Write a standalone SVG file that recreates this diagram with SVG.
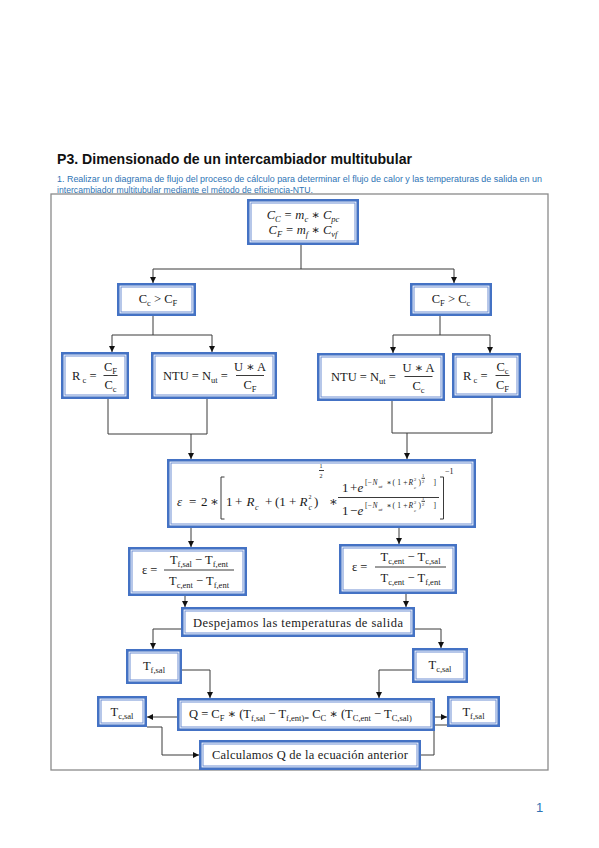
<svg xmlns="http://www.w3.org/2000/svg" width="599" height="848" viewBox="0 0 599 848">
<style>
.bo{fill:#fff;stroke:#4472C4;stroke-width:2.6}
.bi{fill:none;stroke:#6F8FD3;stroke-width:1}
.c{fill:none;stroke:#3a3a3a;stroke-width:1}
.a{marker-end:url(#ah)}
.m{font-family:"Liberation Serif","DejaVu Serif",serif;font-size:12.5px;fill:#1a1a1a}
.s{font-size:8.5px}
.i{font-style:italic}
.e13{font-size:13px}
.e8{font-size:8px}
.e7{font-size:7.5px}
.e6{font-size:6px}
.e5{font-size:5px}
.e4{font-size:4.5px}
.frame{fill:none;stroke:#8a8a8a;stroke-width:1.3}
</style>
<defs>
<marker id="ah" markerWidth="6" markerHeight="6" refX="6" refY="3" orient="auto" markerUnits="userSpaceOnUse">
<path d="M0,0 L6,3 L0,6 z" fill="#111"/>
</marker>
</defs>
<rect width="599" height="848" fill="#fff"/>
<text x="57" y="164" font-family="Liberation Sans, Arial, sans-serif" font-size="15" font-weight="bold" fill="#111" textLength="355" lengthAdjust="spacingAndGlyphs">P3. Dimensionado de un intercambiador multitubular</text>
<text x="57" y="182" font-family="Liberation Sans, Arial, sans-serif" font-size="8.5" fill="#2E74B5" textLength="485" lengthAdjust="spacingAndGlyphs">1. Realizar un diagrama de flujo del proceso de cálculo para determinar el flujo de calor y las temperaturas de salida en un</text>
<text x="57" y="192.5" font-family="Liberation Sans, Arial, sans-serif" font-size="8.5" fill="#2E74B5" textLength="256" lengthAdjust="spacingAndGlyphs">intercambiador multitubular mediante el método de eficiencia-NTU.</text>
<rect class="frame" x="51" y="194" width="497" height="576"/>
<text x="536" y="812" font-family="Liberation Sans, Arial, sans-serif" font-size="13" fill="#2E74B5">1</text>

<g id="connectors">
<path class="c" d="M301,245 V269 M153,269 H454"/>
<path class="c a" d="M153,269 V283"/>
<path class="c a" d="M454,269 V283"/>
<path class="c" d="M153,316 V335 M112,335 H212"/>
<path class="c a" d="M112,335 V352"/>
<path class="c a" d="M212,335 V352"/>
<path class="c" d="M440,316 V335 M393,335 H490"/>
<path class="c a" d="M393,335 V353"/>
<path class="c a" d="M490,335 V353"/>
<path class="c" d="M108,399 V434 H207 V399"/>
<path class="c a" d="M191,434 V459"/>
<path class="c" d="M392,401 V433 H492 V398"/>
<path class="c a" d="M407,433 V459"/>
<path class="c a" d="M191,528 V547"/>
<path class="c a" d="M399,528 V544"/>
<path class="c a" d="M185,596 V607"/>
<path class="c a" d="M406,594 V607"/>
<path class="c a" d="M181,629 H153 V649"/>
<path class="c a" d="M415,629 H441 V648"/>
<path class="c a" d="M182,670 H210 V698"/>
<path class="c a" d="M412,670 H379 V698"/>
<path class="c a" d="M177,717 H147"/>
<path class="c a" d="M428,717 H447"/>
<path class="c a" d="M147,727 H162 V755 H199"/>
<path class="c a" d="M447,725 H434 V755 H413"/>
</g>

<g id="n_top">
<rect class="bo" x="248.3" y="200.3" width="109.4" height="43.4"/>
<rect class="bi" x="251" y="203" width="104" height="38"/>
<text class="m i" x="303" y="219" text-anchor="middle">C<tspan class="s" dy="2.5">C</tspan><tspan dy="-2.5"> =  m</tspan><tspan class="s" dy="2.5">c</tspan><tspan dy="-2.5"> ∗ C</tspan><tspan class="s" dy="2.5">pc</tspan></text>
<text class="m i" x="303" y="234" text-anchor="middle">C<tspan class="s" dy="2.5">F</tspan><tspan dy="-2.5"> =  m</tspan><tspan class="s" dy="2.5">f</tspan><tspan dy="-2.5"> ∗ C</tspan><tspan class="s" dy="2.5">vf</tspan></text>
</g>

<g id="n_cc_gt_cf">
<rect class="bo" x="118.3" y="284.3" width="76.4" height="30.4"/>
<rect class="bi" x="121" y="287" width="71" height="25"/>
<text class="m" x="158" y="303" text-anchor="middle">C<tspan class="s" dy="2.5">c</tspan><tspan dy="-2.5"> &gt; C</tspan><tspan class="s" dy="2.5">F</tspan></text>
</g>

<g id="n_cf_gt_cc">
<rect class="bo" x="411.3" y="284.3" width="79.4" height="30.4"/>
<rect class="bi" x="414" y="287" width="74" height="25"/>
<text class="m" x="451" y="303" text-anchor="middle">C<tspan class="s" dy="2.5">F</tspan><tspan dy="-2.5"> &gt; C</tspan><tspan class="s" dy="2.5">c</tspan></text>
</g>

<g id="n_rc_left">
<rect class="bo" x="62.3" y="353.3" width="65.4" height="44.4"/>
<rect class="bi" x="65" y="356" width="60" height="39"/>
<text class="m" x="72" y="380">R<tspan class="s" dy="2.5"> c</tspan><tspan dy="-2.5"> =</tspan></text>
<text class="m" x="110.5" y="371" text-anchor="middle">C<tspan class="s" dy="2.5">F</tspan></text>
<path class="c" d="M103.5,375.5 H117.5"/>
<text class="m" x="110.5" y="389" text-anchor="middle">C<tspan class="s" dy="2.5">c</tspan></text>
</g>

<g id="n_ntu_left">
<rect class="bo" x="152.3" y="353.3" width="123.4" height="44.4"/>
<rect class="bi" x="155" y="356" width="118" height="39"/>
<text class="m" x="163" y="380">NTU = N<tspan class="s" dy="2.5">ut</tspan><tspan dy="-2.5"> =</tspan></text>
<text class="m" x="250" y="371" text-anchor="middle">U ∗ A</text>
<path class="c" d="M236,375.5 H264"/>
<text class="m" x="250" y="389" text-anchor="middle">C<tspan class="s" dy="2.5">F</tspan></text>
</g>

<g id="n_ntu_right">
<rect class="bo" x="318.3" y="354.3" width="125.4" height="45.4"/>
<rect class="bi" x="321" y="357" width="120" height="40"/>
<text class="m" x="331" y="381">NTU = N<tspan class="s" dy="2.5">ut</tspan><tspan dy="-2.5"> =</tspan></text>
<text class="m" x="418.5" y="372" text-anchor="middle">U ∗ A</text>
<path class="c" d="M404.5,376.5 H432.5"/>
<text class="m" x="418.5" y="390" text-anchor="middle">C<tspan class="s" dy="2.5">c</tspan></text>
</g>

<g id="n_rc_right">
<rect class="bo" x="453.3" y="354.3" width="66.4" height="42.4"/>
<rect class="bi" x="456" y="357" width="61" height="37"/>
<text class="m" x="463" y="380">R<tspan class="s" dy="2.5"> c</tspan><tspan dy="-2.5"> =</tspan></text>
<text class="m" x="502.5" y="371" text-anchor="middle">C<tspan class="s" dy="2.5">c</tspan></text>
<path class="c" d="M495.5,375.5 H509.5"/>
<text class="m" x="502.5" y="389" text-anchor="middle">C<tspan class="s" dy="2.5">F</tspan></text>
</g>

<g id="n_epsilon">
<rect class="bo" x="168.3" y="460.3" width="306.4" height="66.4"/>
<rect class="bi" x="171" y="463" width="301" height="61"/>
<text class="m e13" y="506"><tspan x="177" class="i">ε</tspan><tspan x="189">=</tspan><tspan x="201">2</tspan><tspan x="210">∗</tspan></text>
<text class="m e13" y="506"><tspan x="226">1</tspan><tspan x="235">+</tspan></text>
<text class="m e13 i" x="246.5" y="506">R</text>
<text class="m e8 i" x="255" y="509.5">c</text>
<text class="m e13" y="506"><tspan x="265">+</tspan><tspan x="275">(1</tspan><tspan x="289">+</tspan></text>
<text class="m e13 i" x="299.5" y="506">R</text>
<text class="m e6" x="308.5" y="499">2</text>
<text class="m e8 i" x="308.5" y="509.5">c</text>
<text class="m e13" x="314" y="506">)</text>
<text class="m e6" x="319.5" y="468">1</text>
<path class="c" d="M319,470.5 H324" stroke-width="0.6"/>
<text class="m e6" x="319.5" y="477.5">2</text>
<text class="m e13" x="329" y="506">∗</text>
<path class="c" d="M224.5,477 H221 V519 H224.5 M440,477 H443.5 V519 H440" stroke-width="1.2"/>
<text class="m e8" x="445" y="474">−1</text>
<text class="m e13" y="492"><tspan x="342">1</tspan><tspan x="350">+</tspan></text>
<text class="m e13 i" x="357.5" y="492">e</text>
<text class="m e7" x="365" y="485">[−</text>
<text class="m e7 i" x="372.5" y="485">N</text>
<text class="m e5 i" x="378.5" y="487.5">ut</text>
<text class="m e7" x="386.5" y="485">∗</text>
<text class="m e7" x="392.5" y="485" textLength="15" lengthAdjust="spacing">(1+</text>
<text class="m e7 i" x="408.5" y="485">R</text>
<text class="m e4" x="414" y="481">2</text>
<text class="m e4 i" x="414" y="488.5">c</text>
<text class="m e7" x="418.5" y="485">)</text>
<text class="m e4" x="422" y="476.5">1</text>
<text class="m e4" x="422" y="483">2</text>
<path class="c" d="M421.5,478.3 H425" stroke-width="0.4"/>
<text class="m e7" x="433.5" y="485">]</text>
<path class="c" d="M338,497.5 H439"/>
<text class="m e13" y="515"><tspan x="342">1</tspan><tspan x="350">−</tspan></text>
<text class="m e13 i" x="357.5" y="515">e</text>
<text class="m e7" x="365" y="508">[−</text>
<text class="m e7 i" x="372.5" y="508">N</text>
<text class="m e5 i" x="378.5" y="510.5">ut</text>
<text class="m e7" x="386.5" y="508">∗</text>
<text class="m e7" x="392.5" y="508" textLength="15" lengthAdjust="spacing">(1+</text>
<text class="m e7 i" x="408.5" y="508">R</text>
<text class="m e4" x="414" y="504">2</text>
<text class="m e4 i" x="414" y="511.5">c</text>
<text class="m e7" x="418.5" y="508">)</text>
<text class="m e4" x="422" y="499.5">1</text>
<text class="m e4" x="422" y="506">2</text>
<path class="c" d="M421.5,501.3 H425" stroke-width="0.4"/>
<text class="m e7" x="433.5" y="508">]</text>
</g>

<g id="n_eps_left">
<rect class="bo" x="129.3" y="548.3" width="116.4" height="46.4"/>
<rect class="bi" x="132" y="551" width="111" height="41"/>
<text class="m" x="142" y="574">ε =</text>
<text class="m" x="199" y="564" text-anchor="middle">T<tspan class="s" dy="2.5">f,sal</tspan><tspan dy="-2.5"> − T</tspan><tspan class="s" dy="2.5">f,ent</tspan></text>
<path class="c" d="M164,570 H234"/>
<text class="m" x="199" y="585" text-anchor="middle">T<tspan class="s" dy="2.5">c,ent</tspan><tspan dy="-2.5"> − T</tspan><tspan class="s" dy="2.5">f,ent</tspan></text>
</g>

<g id="n_eps_right">
<rect class="bo" x="340.3" y="545.3" width="115.4" height="47.4"/>
<rect class="bi" x="343" y="548" width="110" height="42"/>
<text class="m" x="352" y="571">ε =</text>
<text class="m" x="410.5" y="561" text-anchor="middle">T<tspan class="s" dy="2.5">c,ent</tspan><tspan dy="-2.5"> − T</tspan><tspan class="s" dy="2.5">c,sal</tspan></text>
<path class="c" d="M375,567 H446"/>
<text class="m" x="410.5" y="582" text-anchor="middle">T<tspan class="s" dy="2.5">c,ent</tspan><tspan dy="-2.5"> − T</tspan><tspan class="s" dy="2.5">f,ent</tspan></text>
</g>

<g id="n_despejamos">
<rect class="bo" x="182.3" y="608.3" width="231.4" height="27.4"/>
<rect class="bi" x="185" y="611" width="226" height="22"/>
<text class="m" x="193" y="627" textLength="210" lengthAdjust="spacing">Despejamos las temperaturas de salida</text>
</g>

<g id="n_tfsal_1">
<rect class="bo" x="127.3" y="650.3" width="53.4" height="32.4"/>
<rect class="bi" x="130" y="653" width="48" height="27"/>
<text class="m" x="154" y="670" text-anchor="middle">T<tspan class="s" dy="2.5">f,sal</tspan></text>
</g>

<g id="n_tcsal_1">
<rect class="bo" x="413.3" y="649.3" width="53.4" height="32.4"/>
<rect class="bi" x="416" y="652" width="48" height="27"/>
<text class="m" x="440" y="669" text-anchor="middle">T<tspan class="s" dy="2.5">c,sal</tspan></text>
</g>

<g id="n_q">
<rect class="bo" x="178.3" y="699.3" width="255.4" height="30.4"/>
<rect class="bi" x="181" y="702" width="250" height="25"/>
<text class="m" x="189" y="718">Q = C<tspan class="s" dy="2.5">F</tspan><tspan dy="-2.5"> ∗ (T</tspan><tspan class="s" dy="2.5">f,sal</tspan><tspan dy="-2.5"> − T</tspan><tspan class="s" dy="2.5">f,ent)=</tspan><tspan dy="-2.5"> C</tspan><tspan class="s" dy="2.5">C</tspan><tspan dy="-2.5"> ∗ (T</tspan><tspan class="s" dy="2.5">C,ent</tspan><tspan dy="-2.5"> − T</tspan><tspan class="s" dy="2.5">C,sal)</tspan></text>
</g>

<g id="n_tcsal_2">
<rect class="bo" x="98.3" y="697.3" width="47.4" height="28.4"/>
<rect class="bi" x="101" y="700" width="42" height="23"/>
<text class="m" x="122" y="716" text-anchor="middle">T<tspan class="s" dy="2.5">c,sal</tspan></text>
</g>

<g id="n_tfsal_2">
<rect class="bo" x="448.3" y="697.3" width="50.4" height="28.4"/>
<rect class="bi" x="451" y="700" width="45" height="23"/>
<text class="m" x="473.5" y="716" text-anchor="middle">T<tspan class="s" dy="2.5">f,sal</tspan></text>
</g>

<g id="n_calculamos">
<rect class="bo" x="200.3" y="741.3" width="219.4" height="27.4"/>
<rect class="bi" x="203" y="744" width="214" height="22"/>
<text class="m" x="212" y="759" textLength="196" lengthAdjust="spacing">Calculamos Q de la ecuación anterior</text>
</g>
</svg>
